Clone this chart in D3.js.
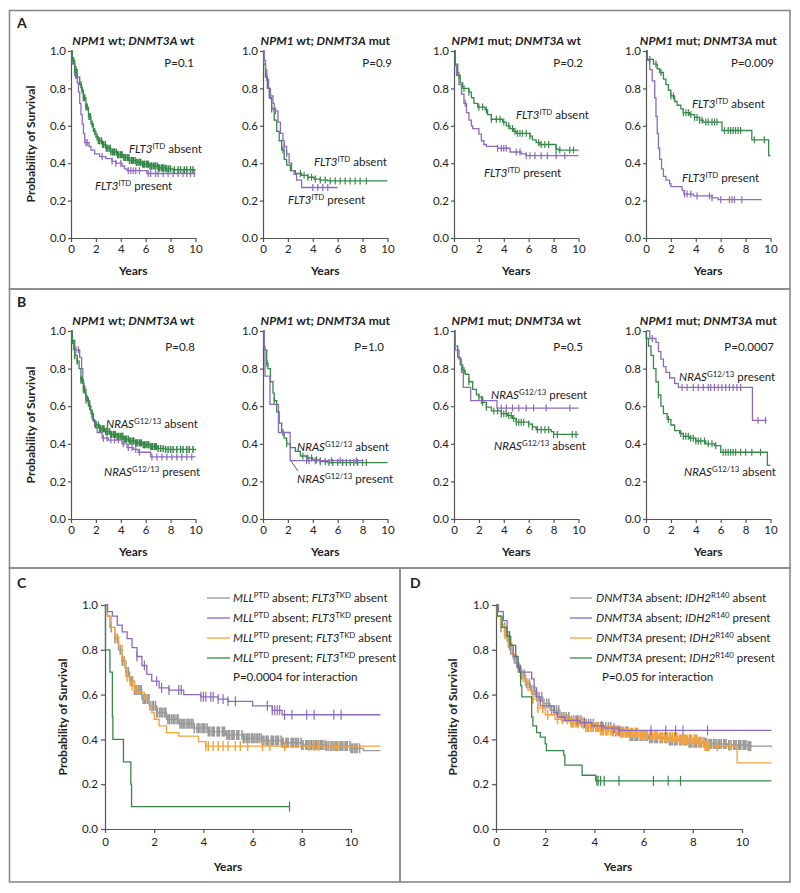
<!DOCTYPE html>
<html><head><meta charset="utf-8">
<script src="https://cdn.jsdelivr.net/npm/d3@7"></script>
<style>
body{margin:0;background:#fff}
svg{display:block}
text{font-family:Lato,"Open Sans",sans-serif;fill:#222}
</style>
</head><body>
<svg id="c" width="800" height="893"></svg>
<script>
// ---------- DATA: step curves [years, survival] and censoring times ----------
const xTicksSmall = [0,2,4,6,8,10];
const yTicks = [0,0.2,0.4,0.6,0.8,1.0];

// Panel A1: NPM1 wt; DNMT3A wt
const A1_absent = [[0,1],[0.1,0.95],[0.3,0.9],[0.5,0.86],[0.7,0.82],[0.85,0.79],[1.0,0.75],[1.2,0.7],[1.4,0.65],[1.6,0.61],[1.8,0.57],[2.0,0.54],[2.2,0.52],[2.5,0.5],[2.8,0.48],[3.2,0.46],[3.7,0.445],[4.2,0.43],[4.7,0.415],[5.2,0.405],[5.7,0.395],[6.3,0.385],[7.0,0.375],[7.6,0.37],[8.2,0.365],[10,0.365]];
const A1_absent_c = [0.2,0.3,0.4,0.8,0.9,1.0,1.1,1.2,1.3,1.45,1.55,1.7,1.9,2.1,2.2,2.3,2.45,2.55,2.6,2.75,2.85,2.9,3.05,3.15,3.2,3.35,3.45,3.5,3.65,3.75,3.8,3.95,4.05,4.1,4.25,4.35,4.4,4.55,4.65,4.7,4.85,4.95,5.0,5.15,5.25,5.3,5.45,5.55,5.6,5.75,5.85,5.9,6.05,6.15,6.2,6.35,6.45,6.5,6.65,6.75,6.8,6.95,7.05,7.1,7.25,7.35,7.4,7.55,7.65,7.7,7.85,8.0,8.3,8.6,8.8,9.1,9.3,9.6,9.8];
const A1_present = [[0,1],[0.1,0.93],[0.3,0.87],[0.5,0.83],[0.6,0.78],[0.7,0.72],[0.8,0.66],[0.9,0.61],[1.0,0.56],[1.1,0.51],[1.45,0.49],[1.6,0.47],[1.9,0.45],[2.3,0.435],[2.8,0.425],[3.3,0.41],[3.6,0.4],[4.1,0.385],[4.3,0.37],[4.5,0.36],[6.1,0.345],[10,0.345]];
const A1_present_c = [0.35,0.45,1.2,1.3,2.5,3.3,3.6,4.0,4.6,4.8,5.0,5.2,5.5,6.2,6.4,6.8,7.0,7.4,7.8,8.2,8.6,9.0,9.3,9.6,9.9];

// Panel A2: NPM1 wt; DNMT3A mut
const A2_absent = [[0,1],[0.05,0.93],[0.2,0.86],[0.35,0.8],[0.5,0.75],[0.7,0.69],[0.9,0.63],[1.1,0.57],[1.3,0.52],[1.5,0.47],[1.7,0.42],[1.9,0.39],[2.2,0.36],[2.6,0.345],[3.1,0.335],[3.6,0.325],[4.1,0.315],[4.6,0.31],[5.2,0.305],[10,0.305]];
const A2_absent_c = [0.3,0.7,1.6,3.0,3.3,3.6,3.9,4.2,4.6,5.0,5.4,5.8,6.2,6.6,7.0,7.4,7.8,8.3];
const A2_present = [[0,1],[0.1,0.95],[0.2,0.9],[0.3,0.85],[0.45,0.8],[0.6,0.76],[0.8,0.72],[0.9,0.68],[1.2,0.62],[1.4,0.56],[1.6,0.52],[1.7,0.49],[1.9,0.45],[2.1,0.4],[2.3,0.36],[2.5,0.34],[2.7,0.31],[3.1,0.27],[6.0,0.27]];
const A2_present_c = [0.6,1.0,1.7,1.9,4.0,4.4,4.8,5.2];

// Panel A3: NPM1 mut; DNMT3A wt
const A3_absent = [[0,1],[0.1,0.93],[0.3,0.87],[0.5,0.83],[0.7,0.8],[1.2,0.78],[1.4,0.75],[1.6,0.72],[1.9,0.7],[2.5,0.685],[2.7,0.66],[3.0,0.635],[3.9,0.62],[4.2,0.6],[4.5,0.585],[4.8,0.57],[5.0,0.56],[6.1,0.545],[6.3,0.525],[6.6,0.51],[6.9,0.5],[8.2,0.475],[8.4,0.47],[10,0.47]];
const A3_absent_c = [0.4,0.8,1.2,2.0,2.3,2.6,3.0,3.4,3.7,4.0,4.4,4.7,4.9,5.1,5.3,5.5,5.8,6.1,6.8,7.0,7.3,7.6,8.2,8.5,9.3,9.6];
const A3_present = [[0,1],[0.1,0.92],[0.2,0.87],[0.4,0.82],[0.6,0.77],[0.8,0.72],[1.0,0.67],[1.2,0.63],[1.4,0.6],[1.5,0.585],[2.0,0.555],[2.2,0.52],[2.4,0.5],[2.6,0.49],[3.5,0.48],[4.5,0.46],[5.4,0.45],[5.8,0.44],[10,0.44]];
const A3_present_c = [0.9,3.5,3.8,4.0,4.2,5.0,5.3,5.8,6.1,6.5,7.0,7.5,8.2,8.9];

// Panel A4: NPM1 mut; DNMT3A mut
const A4_absent = [[0,1],[0.1,0.955],[0.6,0.93],[0.9,0.905],[1.1,0.885],[1.4,0.85],[1.6,0.82],[1.8,0.79],[2.0,0.76],[2.3,0.73],[2.5,0.71],[2.8,0.69],[3.0,0.67],[3.5,0.66],[3.9,0.645],[4.3,0.63],[4.6,0.62],[6.0,0.62],[6.1,0.575],[8.4,0.575],[8.5,0.525],[9.8,0.525],[9.85,0.44],[10,0.44]];
const A4_absent_c = [0.3,0.8,1.2,2.0,2.2,3.0,3.2,3.4,3.6,3.9,4.1,4.3,4.5,4.8,5.0,5.3,5.5,5.7,6.3,6.6,6.8,7.0,7.2,7.4,7.6,8.7,9.5];
const A4_present = [[0,1],[0.1,0.95],[0.3,0.9],[0.5,0.84],[0.7,0.75],[0.8,0.65],[0.9,0.56],[1.0,0.48],[1.1,0.42],[1.25,0.37],[1.4,0.33],[1.6,0.31],[1.9,0.29],[2.0,0.275],[2.9,0.255],[3.05,0.235],[3.8,0.225],[5.3,0.215],[5.8,0.205],[9.3,0.205]];
const A4_present_c = [3.1,3.3,3.6,4.1,5.1,5.3,6.0,6.7,6.9,7.1,7.7];

// Panel B1: NPM1 wt; DNMT3A wt
const B1_absent = [[0,1],[0.1,0.95],[0.3,0.87],[0.5,0.84],[0.65,0.8],[0.8,0.74],[1.0,0.69],[1.2,0.64],[1.4,0.6],[1.6,0.56],[1.8,0.52],[2.0,0.5],[2.3,0.48],[2.7,0.465],[3.2,0.45],[3.7,0.44],[4.2,0.425],[4.7,0.415],[5.2,0.405],[5.8,0.395],[6.4,0.385],[7.0,0.375],[7.6,0.37],[10,0.365]];
const B1_absent_c = [0.1,0.3,0.5,0.8,0.9,1.0,1.1,1.3,1.5,1.7,2.0,2.2,2.3,2.35,2.5,2.6,2.65,2.8,2.9,2.95,3.1,3.2,3.25,3.4,3.5,3.55,3.7,3.8,3.85,4.0,4.1,4.15,4.3,4.4,4.45,4.6,4.7,4.75,4.9,5.0,5.05,5.2,5.3,5.35,5.5,5.6,5.65,5.8,5.9,5.95,6.1,6.2,6.25,6.4,6.5,6.55,6.7,6.8,6.85,7.0,7.2,7.4,7.6,7.8,8.0,8.2,8.5,8.8,9.0,9.3,9.5,9.8];
const B1_present = [[0,1],[0.1,0.95],[0.2,0.9],[0.7,0.86],[0.85,0.8],[0.95,0.72],[1.05,0.67],[1.2,0.63],[1.5,0.58],[1.7,0.53],[1.9,0.49],[2.1,0.46],[2.5,0.43],[3.0,0.42],[4.1,0.4],[4.5,0.38],[5.0,0.37],[5.4,0.355],[6.4,0.33],[10,0.33]];
const B1_present_c = [0.4,0.6,1.2,1.4,2.6,2.9,3.2,3.5,3.8,4.2,4.6,4.9,5.2,5.5,6.5,6.9,7.3,7.7,8.1,8.5,8.9,9.3,9.7];

// Panel B2: NPM1 wt; DNMT3A mut
const B2_absent = [[0,1],[0.1,0.9],[0.3,0.83],[0.4,0.8],[0.6,0.73],[0.8,0.67],[0.9,0.63],[1.1,0.57],[1.3,0.51],[1.5,0.46],[1.7,0.43],[1.9,0.4],[2.2,0.38],[2.6,0.36],[3.0,0.335],[3.5,0.325],[4.0,0.315],[4.6,0.305],[5.2,0.3],[10,0.3]];
const B2_absent_c = [0.3,0.9,1.6,1.9,3.2,3.6,3.9,4.3,4.6,5.0,5.3,5.6,6.0,6.4,6.7,7.0,7.3,7.6,8.0,8.3];
const B2_present = [[0,1],[0.1,0.92],[0.16,0.76],[0.56,0.61],[1.24,0.46],[2.18,0.31],[8.0,0.31]];
const B2_present_c = [3.5,3.7,4.2,4.6,5.5,6.2,7.5];

// Panel B3: NPM1 mut; DNMT3A wt
const B3_absent = [[0,1],[0.1,0.92],[0.3,0.86],[0.5,0.82],[0.7,0.79],[0.9,0.77],[1.2,0.73],[1.5,0.69],[1.8,0.66],[2.0,0.65],[2.3,0.62],[2.6,0.595],[3.0,0.575],[3.8,0.56],[4.3,0.55],[4.7,0.535],[5.0,0.515],[6.0,0.505],[6.3,0.49],[6.6,0.475],[7.8,0.465],[8.0,0.45],[10,0.45]];
const B3_absent_c = [0.8,1.2,2.0,2.3,2.6,3.2,3.5,3.8,4.0,4.2,4.4,4.6,4.8,5.0,5.2,5.4,5.6,6.0,6.3,6.7,7.0,7.3,7.6,8.0,8.3,9.5,9.8];
const B3_present = [[0,1],[0.1,0.9],[0.4,0.85],[0.6,0.78],[0.75,0.7],[1.34,0.63],[3.45,0.59],[10,0.59]];
const B3_present_c = [2.2,3.8,4.2,4.7,5.2,5.8,6.4,7.4,9.3];

// Panel B4: NPM1 mut; DNMT3A mut
const B4_present = [[0,1],[0.3,0.96],[0.8,0.94],[1.0,0.89],[1.2,0.85],[1.4,0.81],[1.6,0.78],[1.9,0.75],[2.3,0.72],[2.6,0.7],[8.5,0.7],[8.55,0.525],[9.7,0.525]];
const B4_present_c = [0.5,2.9,3.3,3.8,4.2,4.6,5.0,5.2,5.5,5.8,6.1,6.4,6.7,7.0,7.3,7.6,9.0,9.6];
const B4_absent = [[0,1],[0.01,0.96],[0.2,0.92],[0.4,0.87],[0.6,0.8],[0.8,0.73],[1.0,0.66],[1.2,0.6],[1.4,0.56],[1.7,0.53],[2.0,0.5],[2.3,0.47],[2.7,0.455],[3.0,0.44],[3.5,0.43],[4.0,0.415],[4.8,0.4],[5.5,0.39],[6.0,0.355],[9.7,0.355],[9.75,0.285],[10,0.285]];
const B4_absent_c = [1.0,1.8,2.8,3.0,3.2,3.4,3.6,3.8,4.0,4.2,4.4,4.7,5.0,5.3,5.6,6.2,6.4,6.6,6.8,7.0,7.2,7.6,8.0,8.5,9.2];

// Panel C: MLL-PTD x FLT3-TKD
const C_gray = [[0,1],[0.1,0.95],[0.2,0.9],[0.4,0.85],[0.55,0.8],[0.7,0.75],[0.85,0.7],[1.0,0.66],[1.2,0.62],[1.5,0.58],[1.8,0.55],[2.1,0.52],[2.5,0.49],[3.0,0.47],[3.6,0.45],[4.2,0.435],[4.9,0.42],[5.6,0.405],[6.4,0.395],[7.2,0.385],[8.0,0.375],[9.0,0.37],[10.0,0.36],[10.5,0.35],[11.2,0.35]];
const C_gray_c = [0.25,0.4,0.5,0.62,0.7,0.78,0.86,0.95,1.03,1.12,1.2,1.3,1.38,1.47,1.55,1.66,1.74,1.83,1.92,2.05,2.13,2.22,2.34,2.42,2.55,2.63,2.71,2.84,2.93,3.05,3.12,3.24,3.33,3.45,3.52,3.63,3.74,3.86,3.95,4.06,4.15,4.26,4.35,4.44,4.56,4.65,4.77,4.86,4.95,5.07,5.16,5.25,5.36,5.44,5.57,5.66,5.74,5.86,5.95,6.06,6.14,6.27,6.35,6.46,6.55,6.63,6.76,6.85,6.94,7.05,7.16,7.24,7.36,7.45,7.57,7.66,7.74,7.86,7.97,8.05,8.16,8.26,8.34,8.47,8.55,8.66,8.75,8.86,8.95,9.07,9.16,9.27,9.35,9.46,9.55,9.67,9.76,9.85,9.96,10.05,10.13,10.25,10.35,
  1.08,1.26,1.43,1.6,1.79,1.97,2.1,2.28,2.47,2.6,2.78,2.97,3.18,3.38,3.58,3.8,4.0,4.2,4.4,4.6,4.82,5.02,5.2,5.4,5.62,5.8,6.0,6.2,6.4,6.6,6.8,7.0,7.2,7.4,7.62,7.8,8.0,8.2,8.4,8.6,8.8,9.0,9.2,9.4,9.6,9.8,10.0,10.2];
const C_purple = [[0,1],[0.1,0.97],[0.3,0.95],[0.5,0.91],[0.7,0.88],[0.9,0.85],[1.1,0.81],[1.3,0.77],[1.5,0.73],[1.7,0.69],[1.9,0.66],[2.2,0.63],[2.6,0.62],[3.2,0.6],[3.9,0.59],[4.6,0.58],[5.0,0.57],[6.0,0.55],[6.8,0.53],[7.2,0.51],[11.2,0.51]];
const C_purple_c = [1.3,1.6,2.1,2.3,2.6,3.0,3.1,3.9,4.0,4.1,4.3,4.4,4.6,4.8,5.0,5.3,6.6,6.8,6.9,7.0,7.1,7.3,7.6,8.2,8.5,9.3,9.6];
const C_orange = [[0,1],[0.1,0.95],[0.25,0.9],[0.4,0.86],[0.55,0.82],[0.7,0.76],[0.8,0.72],[0.9,0.68],[1.05,0.64],[1.3,0.61],[1.6,0.58],[1.8,0.55],[1.9,0.52],[2.0,0.49],[2.2,0.46],[2.5,0.43],[3.0,0.415],[3.8,0.39],[4.1,0.37],[11.2,0.37]];
const C_orange_c = [0.9,1.1,1.2,4.1,4.2,4.4,4.6,4.8,5.0,5.3,5.5,5.8,6.4,6.7,7.3,8.3,8.5,8.7,9.2,9.4];
const C_green = [[0,1],[0.02,0.8],[0.2,0.7],[0.3,0.5],[0.32,0.4],[0.75,0.3],[1.05,0.2],[1.08,0.1],[7.5,0.1]];
const C_green_c = [7.5];

// Panel D: DNMT3A x IDH2-R140
const D_gray = [[0,1],[0.05,0.95],[0.2,0.9],[0.4,0.86],[0.55,0.8],[0.7,0.76],[0.85,0.72],[1.0,0.69],[1.2,0.65],[1.4,0.62],[1.6,0.59],[1.9,0.56],[2.2,0.53],[2.6,0.5],[3.0,0.485],[3.5,0.47],[4.0,0.455],[4.7,0.435],[5.4,0.415],[6.2,0.405],[7.0,0.395],[7.8,0.385],[8.6,0.38],[9.4,0.375],[10.2,0.37],[11.2,0.365]];
const D_gray_c = [0.2,0.35,0.45,0.6,0.75,0.9,1.05,1.15,1.25,1.36,1.45,1.55,1.66,1.75,1.86,1.95,2.06,2.15,2.26,2.37,2.46,2.55,2.67,2.76,2.85,2.96,3.07,3.16,3.25,3.36,3.45,3.56,3.67,3.76,3.85,3.96,4.06,4.15,4.26,4.35,4.46,4.57,4.66,4.75,4.86,4.96,5.05,5.16,5.27,5.36,5.45,5.56,5.65,5.76,5.87,5.96,6.05,6.16,6.25,6.36,6.45,6.56,6.67,6.76,6.85,6.96,7.05,7.16,7.25,7.36,7.47,7.56,7.65,7.76,7.85,7.96,8.05,8.16,8.25,8.36,8.46,8.56,8.65,8.76,8.85,8.96,9.05,9.16,9.26,9.35,9.46,9.55,9.66,9.76,9.86,9.95,10.05,10.16,10.25,10.35,
  5.1,5.31,5.52,5.7,5.92,6.11,6.3,6.51,6.72,6.9,7.1,7.3,7.52,7.7,7.9,8.1,8.31,8.5,8.7,8.9,9.1,9.3,9.5,9.71,9.9,10.1,10.3];
const D_purple = [[0,1],[0.1,0.97],[0.3,0.93],[0.45,0.88],[0.55,0.82],[0.7,0.77],[0.85,0.73],[1.0,0.7],[1.45,0.67],[1.55,0.63],[1.65,0.59],[1.8,0.55],[2.35,0.52],[2.5,0.5],[2.8,0.485],[3.4,0.475],[3.9,0.46],[4.4,0.45],[5.0,0.44],[11.2,0.44]];
const D_purple_c = [3.3,3.6,4.3,4.8,5.0,6.3,6.9,7.3,7.6,8.6];
const D_orange = [[0,1],[0.05,0.95],[0.2,0.91],[0.35,0.87],[0.5,0.83],[0.65,0.78],[0.8,0.74],[0.95,0.7],[1.1,0.66],[1.3,0.62],[1.5,0.58],[1.7,0.54],[2.0,0.51],[2.4,0.49],[3.0,0.475],[3.6,0.455],[4.2,0.44],[5.0,0.43],[5.8,0.42],[6.6,0.41],[7.4,0.4],[8.2,0.39],[8.5,0.37],[9.75,0.37],[9.8,0.295],[11.2,0.295]];
const D_orange_c = [0.35,0.5,1.0,1.2,1.5,1.7,1.9,2.1,2.5,2.7,2.9,3.05,3.15,3.25,3.35,3.48,3.56,3.65,3.77,3.86,3.95,4.06,4.17,4.25,4.36,4.45,4.55,4.67,4.75,4.86,4.95,5.06,5.17,5.25,5.36,5.47,5.55,5.66,5.75,5.86,5.97,6.06,6.15,6.27,6.36,6.45,6.56,6.67,6.76,6.85,6.96,7.05,7.17,7.26,7.35,7.46,7.56,7.65,7.76,7.86,7.95,8.06,8.16,8.26,8.35,8.45,8.56,8.66,9.0,9.5,
  3.1,3.3,3.52,3.71,3.9,4.11,4.31,4.5,4.71,4.9,5.11,5.3,5.51,5.7,5.91,6.1,6.31,6.5,6.71,6.9,7.1,7.3,7.51,7.7,7.9,8.11,8.3,8.5,8.6];
const D_green = [[0,1],[0.05,0.95],[0.25,0.9],[0.45,0.86],[0.6,0.82],[0.8,0.77],[0.9,0.72],[0.95,0.7],[1.0,0.64],[1.05,0.59],[1.45,0.5],[1.5,0.46],[1.65,0.43],[1.8,0.41],[2.0,0.38],[2.05,0.35],[2.75,0.33],[2.8,0.285],[3.5,0.24],[4.05,0.215],[11.2,0.215]];
const D_green_c = [0.55,4.1,4.15,4.25,4.4,5.0,6.4,7.0,7.5];

// Text content
const titlesAB = [
  [["NPM1","bi"],[" wt; ","b"],["DNMT3A","bi"],[" wt","b"]],
  [["NPM1","bi"],[" wt; ","b"],["DNMT3A","bi"],[" mut","b"]],
  [["NPM1","bi"],[" mut; ","b"],["DNMT3A","bi"],[" wt","b"]],
  [["NPM1","bi"],[" mut; ","b"],["DNMT3A","bi"],[" mut","b"]]
];
const pValuesA = ["P=0.1","P=0.9","P=0.2","P=0.009"];
const pValuesB = ["P=0.8","P=1.0","P=0.5","P=0.0007"];
const FLT3abs = [["FLT3","i"],["ITD","sup"],[" absent",""]];
const FLT3pres = [["FLT3","i"],["ITD","sup"],[" present",""]];
const NRASabs = [["NRAS","i"],["G12/13","sup"],[" absent",""]];
const NRASpres = [["NRAS","i"],["G12/13","sup"],[" present",""]];
const legendC = [
  [["MLL","i"],["PTD","sup"],[" absent; ",""],["FLT3","i"],["TKD","sup"],[" absent",""]],
  [["MLL","i"],["PTD","sup"],[" absent; ",""],["FLT3","i"],["TKD","sup"],[" present",""]],
  [["MLL","i"],["PTD","sup"],[" present; ",""],["FLT3","i"],["TKD","sup"],[" absent",""]],
  [["MLL","i"],["PTD","sup"],[" present; ",""],["FLT3","i"],["TKD","sup"],[" present",""]]
];
const legendD = [
  [["DNMT3A","i"],[" absent; ",""],["IDH2","i"],["R140","sup"],[" absent",""]],
  [["DNMT3A","i"],[" absent; ",""],["IDH2","i"],["R140","sup"],[" present",""]],
  [["DNMT3A","i"],[" present; ",""],["IDH2","i"],["R140","sup"],[" absent",""]],
  [["DNMT3A","i"],[" present; ",""],["IDH2","i"],["R140","sup"],[" present",""]]
];
const pC = "P=0.0004 for interaction";
const pD = "P=0.05 for interaction";

// ---------- DRAWING ----------
const COL = {green:'#37894a', purple:'#8c6bbf', orange:'#f4a23a', gray:'#9a9a9a'};
const svg = d3.select('#c');

function stepVal(curve, t){ let v = curve[0][1]; for (const p of curve){ if (p[0] <= t) v = p[1]; else break; } return v; }

function rich(g, x, y, segs, o){
  o = o || {};
  const t = g.append('text').attr('x', x).attr('y', y)
    .attr('font-size', o.size || 11).attr('text-anchor', o.anchor || 'start');
  let off = 0;
  segs.forEach(([s, st]) => {
    const sp = t.append('tspan').text(s);
    if (st === 'sup'){ sp.attr('dy', -4 - off).attr('font-size', (o.size||11)*0.68); off = -4; }
    else { if (off !== 0){ sp.attr('dy', -off); off = 0; } }
    if (st.includes('i')) sp.attr('font-style', 'italic');
    if (st.includes('b')) sp.attr('font-weight', 700);
  });
  return t;
}

function chart(cfg){
  const g = svg.append('g');
  const x = d3.scaleLinear().domain([0,10]).range([cfg.x0, cfg.x1]);
  const y = d3.scaleLinear().domain([0,1]).range([cfg.yb, cfg.yt]);
  const ax = g.append('g').attr('transform', `translate(0,${cfg.yb})`)
    .call(d3.axisBottom(x).tickValues(xTicksSmall).tickSize(4).tickSizeOuter(0).tickPadding(cfg.big ? 5 : 3));
  const ay = g.append('g').attr('transform', `translate(${cfg.x0},0)`)
    .call(d3.axisLeft(y).tickValues(yTicks).tickFormat(d3.format('.1f')).tickSize(cfg.big ? 4 : 3).tickSizeOuter(0).tickPadding(cfg.big ? 3 : 2));
  [ax, ay].forEach(a => {
    a.selectAll('path,line').attr('stroke', '#555').attr('stroke-width', 1.2);
    a.selectAll('text').attr('font-size', 11.5).attr('fill', '#333').attr('font-family', 'Lato,sans-serif');
  });
  const line = d3.line().x(d => x(d[0])).y(d => y(d[1])).curve(d3.curveStepAfter);
  const h = cfg.big ? 5 : 3.5;
  cfg.curves.forEach(c => {
    g.append('path').datum(c.data).attr('d', line).attr('fill', 'none')
      .attr('stroke', c.color).attr('stroke-width', 1.3);
    g.append('g').selectAll('line').data(c.cens).join('line')
      .attr('x1', t => x(t)).attr('x2', t => x(t))
      .attr('y1', t => y(stepVal(c.data, t)) - h).attr('y2', t => y(stepVal(c.data, t)) + h)
      .attr('stroke', c.color).attr('stroke-width', c.tw || 1.2);
  });
  const cx = (cfg.x0 + cfg.x1) / 2;
  if (cfg.title) rich(g, cx, cfg.yt - 6, cfg.title, {anchor:'middle', size:12});
  g.append('text').attr('x', cfg.big ? cfg.yearsX : cx).attr('y', cfg.yearsY).attr('text-anchor','middle')
    .attr('font-size', 12).attr('font-weight', 700).text('Years');
  if (cfg.ylab) g.append('text').attr('transform', `translate(${cfg.ylab[0]},${cfg.ylab[1]}) rotate(-90)`)
    .attr('text-anchor','middle').attr('font-size', 12).attr('font-weight', 700).text('Probability of Survival');
  if (cfg.p) g.append('text').attr('x', cfg.p[0]).attr('y', cfg.p[1]).attr('text-anchor','end').attr('font-size', 11.5).text(cfg.p[2]);
  (cfg.labels || []).forEach(l => rich(g, l[0], l[1], l[2], {size:11.5}));
  return {g, x, y};
}

// Frames
const frame = (x, y, w, h) => svg.append('rect').attr('x', x).attr('y', y).attr('width', w).attr('height', h)
  .attr('fill', 'none').attr('stroke', '#8a8a8a').attr('stroke-width', 1.6);
frame(9.5, 10.5, 780.5, 278.5);
frame(9.5, 289, 780.5, 279);
frame(9.5, 568, 390.5, 314);
frame(400, 568, 390, 314);

// Panel letters
[["A",17,28],["B",17,307],["C",17,588],["D",410,588]].forEach(([s,x,y]) =>
  svg.append('text').attr('x', x).attr('y', y).attr('font-size', 14).attr('font-weight', 700).text(s));

const lefts = [71, 263, 454, 646];
const W = 124.5;

const rowA = [
  {curves:[{data:A1_present,cens:A1_present_c,color:COL.purple},{data:A1_absent,cens:A1_absent_c,color:COL.green,tw:1.5}],
   p:[194,67,pValuesA[0]], labels:[[129,153,FLT3abs],[95,190,FLT3pres]], ylab:[35,144]},
  {curves:[{data:A2_absent,cens:A2_absent_c,color:COL.green},{data:A2_present,cens:A2_present_c,color:COL.purple}],
   p:[392,67,pValuesA[1]], labels:[[314,166,FLT3abs],[288,204,FLT3pres]]},
  {curves:[{data:A3_present,cens:A3_present_c,color:COL.purple},{data:A3_absent,cens:A3_absent_c,color:COL.green}],
   p:[583,67,pValuesA[2]], labels:[[516,119,FLT3abs],[484,177,FLT3pres]]},
  {curves:[{data:A4_present,cens:A4_present_c,color:COL.purple},{data:A4_absent,cens:A4_absent_c,color:COL.green}],
   p:[774,67,pValuesA[3]], labels:[[692,108,FLT3abs],[682,182,FLT3pres]]}
];
rowA.forEach((c, i) => chart(Object.assign(c, {x0:lefts[i], x1:lefts[i]+W, yt:51, yb:238, title:titlesAB[i], yearsY:275})));

const rowB = [
  {curves:[{data:B1_present,cens:B1_present_c,color:COL.purple},{data:B1_absent,cens:B1_absent_c,color:COL.green,tw:1.5}],
   p:[195,351,pValuesB[0]], labels:[[106,428,NRASabs],[104,476,NRASpres]], ylab:[35,425]},
  {curves:[{data:B2_absent,cens:B2_absent_c,color:COL.green},{data:B2_present,cens:B2_present_c,color:COL.purple}],
   p:[384,351,pValuesB[1]], labels:[[297,451,NRASabs],[297,483,NRASpres]]},
  {curves:[{data:B3_absent,cens:B3_absent_c,color:COL.green},{data:B3_present,cens:B3_present_c,color:COL.purple}],
   p:[583,351,pValuesB[2]], labels:[[491,399,NRASpres],[494,450,NRASabs]]},
  {curves:[{data:B4_absent,cens:B4_absent_c,color:COL.green},{data:B4_present,cens:B4_present_c,color:COL.purple}],
   p:[774,351,pValuesB[3]], labels:[[679,381,NRASpres],[684,476,NRASabs]]}
];
rowB.forEach((c, i) => chart(Object.assign(c, {x0:lefts[i], x1:lefts[i]+W, yt:331, yb:519, title:titlesAB[i], yearsY:556})));
// leader line in B2
svg.append('line').attr('x1', 291).attr('y1', 461).attr('x2', 298).attr('y2', 471).attr('stroke', '#333').attr('stroke-width', 0.8);

// Panel C
chart({x0:105, x1:351, yt:605, yb:829, big:true, yearsX:228, yearsY:871, ylab:[67,717],
  curves:[{data:C_gray,cens:C_gray_c,color:COL.gray,tw:1.6},{data:C_orange,cens:C_orange_c,color:COL.orange,tw:1.4},
          {data:C_purple,cens:C_purple_c,color:COL.purple},{data:C_green,cens:C_green_c,color:COL.green}]});
// Panel D
chart({x0:496, x1:742, yt:605, yb:829, big:true, yearsX:618, yearsY:871, ylab:[457,717],
  curves:[{data:D_gray,cens:D_gray_c,color:COL.gray,tw:1.6},{data:D_orange,cens:D_orange_c,color:COL.orange,tw:1.6},
          {data:D_purple,cens:D_purple_c,color:COL.purple},{data:D_green,cens:D_green_c,color:COL.green}]});

// Legends
const legCols = [COL.gray, COL.purple, COL.orange, COL.green];
const rowsY = [598, 618, 638, 658];
function legend(items, lx0, lx1, tx, pText, px){
  items.forEach((segs, i) => {
    svg.append('line').attr('x1', lx0).attr('x2', lx1).attr('y1', rowsY[i]).attr('y2', rowsY[i])
      .attr('stroke', legCols[i]).attr('stroke-width', 1.3);
    rich(svg, tx, rowsY[i] + 4, segs, {size:11.5});
  });
  svg.append('text').attr('x', px).attr('y', 681).attr('font-size', 11.5).text(pText);
}
legend(legendC, 207, 230, 233, pC, 233);
legend(legendD, 570, 592, 596, pD, 602);
</script>
</body></html>
